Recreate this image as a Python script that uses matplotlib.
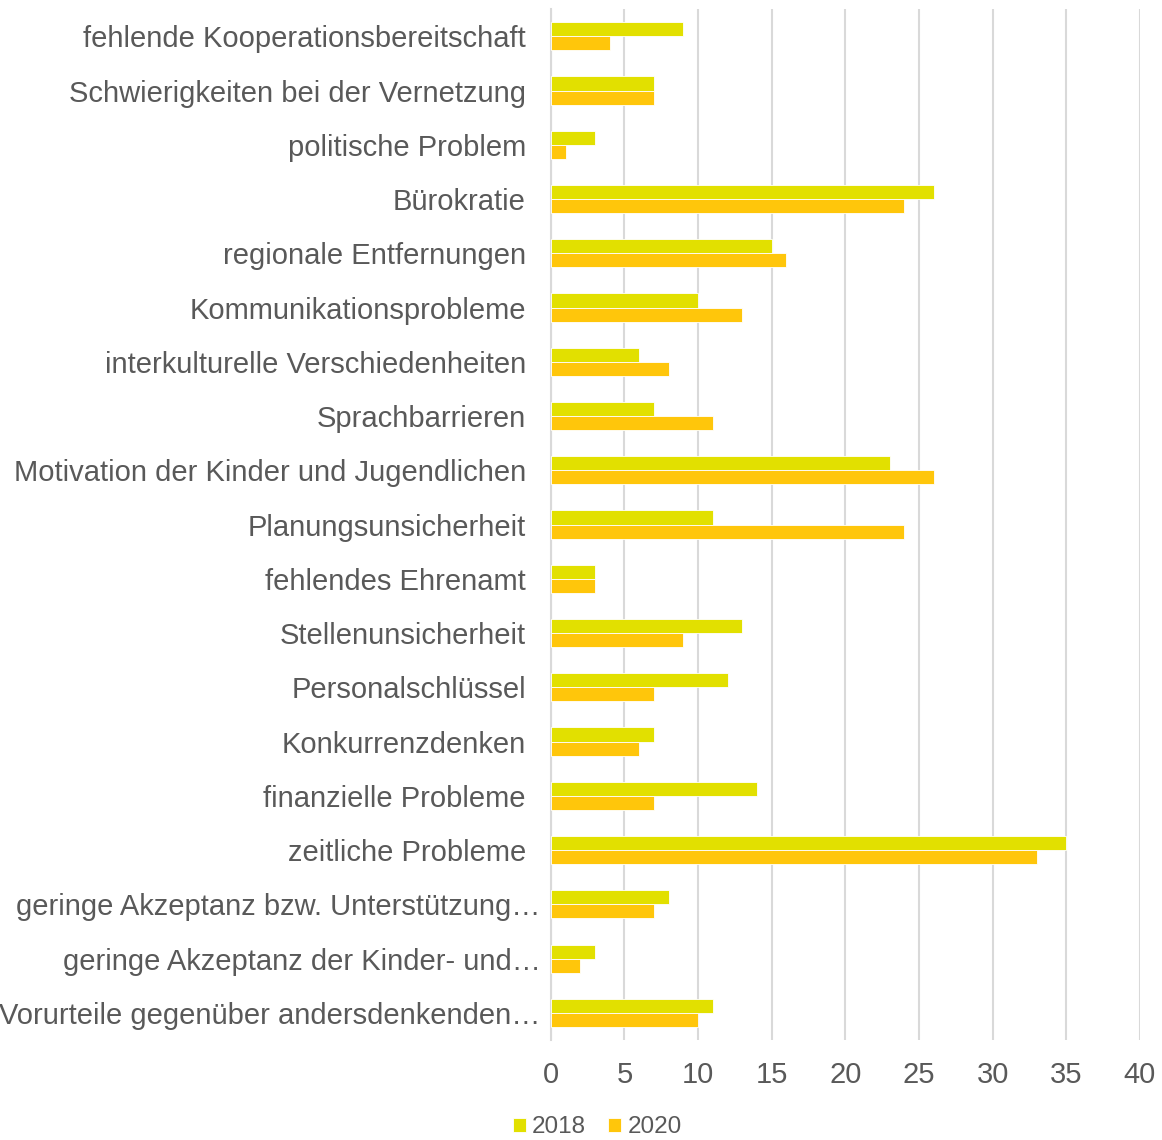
import matplotlib
matplotlib.use("Agg")
import matplotlib.pyplot as plt
import matplotlib.transforms as mtransforms
import numpy as np

categories = [
    "fehlende Kooperationsbereitschaft",
    "Schwierigkeiten bei der Vernetzung",
    "politische Problem",
    "Bürokratie",
    "regionale Entfernungen",
    "Kommunikationsprobleme",
    "interkulturelle Verschiedenheiten",
    "Sprachbarrieren",
    "Motivation der Kinder und Jugendlichen",
    "Planungsunsicherheit",
    "fehlendes Ehrenamt",
    "Stellenunsicherheit",
    "Personalschlüssel",
    "Konkurrenzdenken",
    "finanzielle Probleme",
    "zeitliche Probleme",
    "geringe Akzeptanz bzw. Unterstützung…",
    "geringe Akzeptanz der Kinder- und…",
    "Vorurteile gegenüber andersdenkenden…",
]
values_2018 = [9, 7, 3, 26, 15, 10, 6, 7, 23, 11, 3, 13, 12, 7, 14, 35, 8, 3, 11]
values_2020 = [4, 7, 1, 24, 16, 13, 8, 11, 26, 24, 3, 9, 7, 6, 7, 33, 7, 2, 10]
series_labels = ["2018", "2020"]
x_ticks = [0, 5, 10, 15, 20, 25, 30, 35, 40]

plt.rcParams['font.family'] = ['Liberation Sans', 'DejaVu Sans']
text_color = "#595959"

fig = plt.figure(figsize=(11.62, 11.4), dpi=100)
ax = fig.add_axes([0.474, 0.0877, 0.507, 0.9043])

n = len(categories)
y = np.arange(n)
h = 0.26
c2018 = "#E2E000"
c2020 = "#FFC60B"
ax.barh(y - h / 2, values_2018, height=h, color=c2018, edgecolor="white", linewidth=0.6, label=series_labels[0], zorder=3)
ax.barh(y + h / 2, values_2020, height=h, color=c2020, edgecolor="white", linewidth=0.6, label=series_labels[1], zorder=3)

ax.set_ylim(n - 0.5, -0.5)
ax.set_xlim(0, 40)
ax.set_yticks(y)
ax.set_yticklabels(categories, fontsize=21, color=text_color)
ax.set_xticks(x_ticks)
ax.set_xticklabels([str(t) for t in x_ticks], fontsize=21, color=text_color)
ax.tick_params(axis="y", length=0, pad=18)
ax.tick_params(axis="x", length=0, pad=15)

# truncated labels overflow slightly to the right (ellipsis), as in the reference
shift = mtransforms.ScaledTranslation(15 / 100, 0, fig.dpi_scale_trans)
for lbl in ax.get_yticklabels():
    if lbl.get_text().endswith("…"):
        lbl.set_transform(lbl.get_transform() + shift)

for s in ["top", "right", "bottom"]:
    ax.spines[s].set_visible(False)
ax.spines["left"].set_color("#D9D9D9")
ax.spines["left"].set_linewidth(1.5)
ax.xaxis.grid(True, color="#D9D9D9", linewidth=1.5, zorder=0)
ax.set_axisbelow(True)

leg = fig.legend(loc="center", bbox_to_anchor=(0.514, 0.011), ncol=2, frameon=False,
                 fontsize=17.5, handlelength=0.55, handleheight=0.55, handletextpad=0.25,
                 columnspacing=0.9, labelcolor=text_color)

fig.savefig("out.png", dpi=100)
